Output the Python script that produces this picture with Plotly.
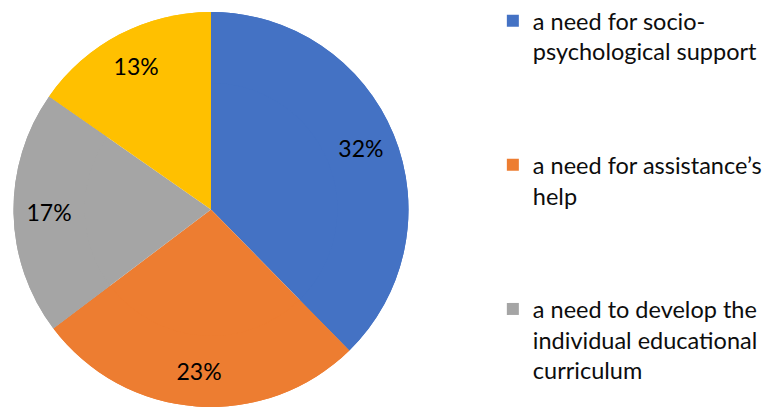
import plotly.graph_objects as go

categories = [
    "a need for socio-<br>psychological support",
    "a need for assistance’s<br>help",
    "a need to develop the<br>individual educational<br>curriculum",
    "other",
]
values = [32, 23, 17, 13]
colors = ["#4472C4", "#ED7D31", "#A5A5A5", "#FFC000"]
label_texts = [f"{v}%" for v in values]
legend_count = 3

FONT = "Lato"
PIE_DOMAIN = dict(x=[0, 406 / 777], y=[0, 1])

fig = go.Figure()
# full pie (fills the centre)
fig.add_trace(go.Pie(
    labels=categories,
    values=values,
    textinfo="none",
    marker=dict(colors=colors, line=dict(width=0)),
    sort=False,
    direction="clockwise",
    rotation=0,
    showlegend=False,
    hoverinfo="skip",
    domain=PIE_DOMAIN,
))
# identical ring on top, used to place the percentage labels further out
fig.add_trace(go.Pie(
    labels=categories,
    values=values,
    hole=0.64,
    text=label_texts,
    textinfo="text",
    textposition="inside",
    insidetextorientation="horizontal",
    textfont=dict(family=FONT, size=23, color="#000000"),
    marker=dict(colors=colors, line=dict(width=0)),
    sort=False,
    direction="clockwise",
    rotation=0,
    showlegend=False,
    hoverinfo="label+text",
    domain=PIE_DOMAIN,
))

for i in range(legend_count):
    fig.add_trace(go.Scatter(
        x=[None], y=[None], mode="markers",
        marker=dict(symbol="square", size=14, color=colors[i]),
        name=categories[i],
        legendgroup=f"g{i}",
        showlegend=True,
    ))

fig.update_layout(
    width=777, height=407,
    margin=dict(l=0, r=0, t=4, b=8, autoexpand=False),
    paper_bgcolor="white",
    plot_bgcolor="white",
    xaxis=dict(visible=False),
    yaxis=dict(visible=False),
    font=dict(family=FONT, size=23, color="#000000"),
    legend=dict(
        x=0.624, xanchor="left",
        y=1.033, yanchor="top",
        valign="top",
        tracegroupgap=80,
        maxheight=407,
        itemsizing="constant",
        font=dict(family=FONT, size=23.5, color="#0d0d0d"),
        bgcolor="rgba(0,0,0,0)",
    ),
)

fig.write_html("out.html")
